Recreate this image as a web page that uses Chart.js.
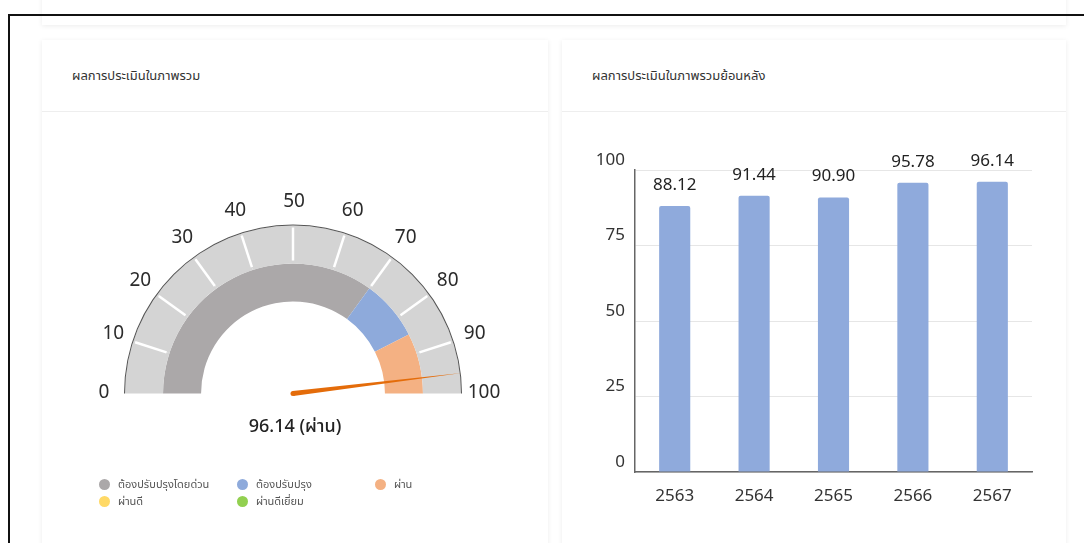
<!DOCTYPE html>
<html lang="th">
<head>
<meta charset="utf-8">
<title>ผลการประเมิน</title>
<script src="https://cdn.jsdelivr.net/npm/chart.js@4.4.1/dist/chart.umd.min.js"></script>
<style>
  html, body { margin: 0; padding: 0; background: #fff; }
  body {
    width: 1084px; height: 543px; overflow: hidden; position: relative;
    font-family: "Noto Sans", "Noto Sans Thai", sans-serif; color: #333;
  }
  .frame {
    position: absolute; left: 8px; top: 14px; width: 1200px; height: 700px;
    border-left: 2px solid #111; border-top: 2px solid #111; z-index: 5;
  }
  .card {
    position: absolute; background: #fff;
    box-shadow: 0 1px 5px rgba(0, 0, 0, 0.08);
  }
  .card-head {
    position: absolute; left: 0; right: 0; top: 0; height: 71px;
    border-bottom: 1px solid #eee;
  }
  .card-head span {
    position: absolute; left: 30px; top: 26px; font-size: 13px; color: #333;
  }
  canvas { position: absolute; }
  .legend { position: absolute; left: 99px; top: 476px; width: 420px; font-size: 11px; color: #555; }
  .legend .item { position: absolute; display: flex; align-items: center; white-space: nowrap; }
  .legend .dot { width: 11px; height: 11px; border-radius: 50%; margin-right: 8px; }
</style>
</head>
<body>
<div class="frame"></div>
<div class="card" style="left:42px; top:-20px; width:1024px; height:45px;"></div>

<div class="card" style="left:42px; top:40px; width:506px; height:520px;">
  <div class="card-head"><span>ผลการประเมินในภาพรวม</span></div>
</div>
<div class="card" style="left:562px; top:40px; width:504px; height:520px;">
  <div class="card-head"><span>ผลการประเมินในภาพรวมย้อนหลัง</span></div>
</div>

<canvas id="gaugeChart" style="left:42px; top:112px;" width="506" height="431"></canvas>
<div class="legend" id="gaugeLegend"></div>
<canvas id="trendChart" style="left:562px; top:112px;" width="504" height="431"></canvas>

<script>
// ข้อมูลเกณฑ์การประเมิน
const zoneLabels = ['ต้องปรับปรุงโดยด่วน', 'ต้องปรับปรุง', 'ผ่าน', 'ผ่านดี', 'ผ่านดีเยี่ยม'];
const zoneSizes = [70, 15, 15, 0, 0];
const zoneColors = ['#aba8a9', '#8eaadb', '#f4b183', '#ffd966', '#92d050'];
const gaugeTicks = [0, 10, 20, 30, 40, 50, 60, 70, 80, 90, 100];
const gaugeBand = [10, 10, 10, 10, 10, 10, 10, 10, 10, 10];
const gaugeMax = 100;

// ข้อมูลย้อนหลัง
const years = ['2563', '2564', '2565', '2566', '2567'];
const scores = [88.12, 91.44, 90.90, 95.78, 96.14];
const yTicks = [0, 25, 50, 75, 100];

const gaugeValue = scores[scores.length - 1];
const FONT = '"Noto Sans", "Noto Sans Thai", sans-serif';

// หาเกณฑ์ของคะแนนปัจจุบัน
let statusLabel = zoneLabels[0];
let acc = 0;
zoneSizes.forEach((s, i) => {
    if (s > 0 && gaugeValue >= acc) statusLabel = zoneLabels[i];
    acc += s;
});

// legend แบบ HTML (3 คอลัมน์)
const legendEl = document.getElementById('gaugeLegend');
zoneLabels.forEach((lbl, i) => {
    const item = document.createElement('div');
    item.className = 'item';
    item.style.left = (i % 3) * 138 + 'px';
    item.style.top = Math.floor(i / 3) * 17 + 'px';
    item.innerHTML = '<span class="dot" style="background:' + zoneColors[i] + '"></span>' + lbl;
    legendEl.appendChild(item);
});

// เส้นแบ่งช่อง, ตัวเลขรอบเกจ, เข็ม และข้อความสถานะ
const gaugeExtras = {
    id: 'gaugeExtras',
    afterDatasetsDraw(chart) {
        const ctx = chart.ctx;
        const band = chart.getDatasetMeta(1).data;
        const arc = chart.getDatasetMeta(2).data[0];
        const cx = arc.x, cy = arc.y;
        ctx.save();

        // เส้นขาวแบ่งช่องละ 10
        ctx.strokeStyle = '#fff';
        ctx.lineWidth = 2.5;
        band.forEach((seg, i) => {
            if (i === 0) return;
            const a = seg.startAngle;
            const r0 = seg.innerRadius + 3, r1 = seg.outerRadius - 2;
            ctx.beginPath();
            ctx.moveTo(seg.x + Math.cos(a) * r0, seg.y + Math.sin(a) * r0);
            ctx.lineTo(seg.x + Math.cos(a) * r1, seg.y + Math.sin(a) * r1);
            ctx.stroke();
        });

        ctx.font = '19px ' + FONT;
        ctx.fillStyle = '#2b2b2b';
        ctx.textAlign = 'center';
        ctx.textBaseline = 'middle';
        gaugeTicks.forEach(t => {
            const a = Math.PI + Math.PI * t / gaugeMax;
            ctx.fillText(String(t), cx + 1 + Math.cos(a) * 190, cy - 1 + Math.sin(a) * 191);
        });

        // เข็ม
        const a = Math.PI + Math.PI * gaugeValue / gaugeMax;
        const len = 170, w = 2.5;
        const px = Math.cos(a + Math.PI / 2) * w, py = Math.sin(a + Math.PI / 2) * w;
        ctx.fillStyle = '#e46c0a';
        ctx.beginPath();
        ctx.moveTo(cx + px, cy + py);
        ctx.lineTo(cx + Math.cos(a) * len, cy + Math.sin(a) * len);
        ctx.lineTo(cx - px, cy - py);
        ctx.closePath();
        ctx.fill();
        ctx.beginPath();
        ctx.arc(cx, cy, w, 0, Math.PI * 2);
        ctx.fill();

        ctx.font = '500 18px ' + FONT;
        ctx.fillStyle = '#222';
        ctx.fillText(gaugeValue.toFixed(2) + ' (' + statusLabel + ')', cx + 2, cy + 33);
        ctx.restore();
    }
};

const gaugeCtx = document.getElementById('gaugeChart').getContext('2d');
const gaugeChart = new Chart(gaugeCtx, {
    type: 'doughnut',
    data: {
        labels: zoneLabels,
        datasets: [
            {
                // เส้นขอบนอก
                data: [gaugeMax],
                backgroundColor: ['#555'],
                borderWidth: 0,
                weight: 1
            },
            {
                data: gaugeBand,
                backgroundColor: '#d4d4d4',
                borderWidth: 0,
                weight: 38
            },
            {
                data: zoneSizes,
                backgroundColor: zoneColors,
                borderWidth: 0,
                weight: 38
            }
        ]
    },
    options: {
        responsive: false,
        animation: false,
        rotation: -90,
        circumference: 180,
        cutout: '54.4%',
        layout: { padding: { left: 82, right: 86, top: 97, bottom: 134 } },
        plugins: {
            legend: { display: false },
            tooltip: { enabled: false }
        }
    },
    plugins: [gaugeExtras]
});

// ค่าบนแท่ง
const barValues = {
    id: 'barValues',
    afterDatasetsDraw(chart) {
        const ctx = chart.ctx;
        const meta = chart.getDatasetMeta(0);
        ctx.save();
        ctx.font = '17px ' + FONT;
        ctx.fillStyle = '#222';
        ctx.textAlign = 'center';
        ctx.textBaseline = 'middle';
        meta.data.forEach((bar, i) => {
            ctx.fillText(scores[i].toFixed(2), bar.x, bar.y - 21);
        });
        ctx.restore();
    }
};

const trendCtx = document.getElementById('trendChart').getContext('2d');
const trendChart = new Chart(trendCtx, {
    type: 'bar',
    data: {
        labels: years,
        datasets: [{
            data: scores,
            backgroundColor: '#8faadc',
            borderRadius: 2,
            categoryPercentage: 0.8,
            barPercentage: 0.49
        }]
    },
    options: {
        responsive: false,
        animation: false,
        layout: { padding: { left: 0, right: 34, top: 58, bottom: 0 } },
        plugins: {
            legend: { display: false },
            tooltip: { enabled: false }
        },
        scales: {
            x: {
                grid: { display: false, drawTicks: false },
                border: { display: true, color: '#666', width: 1.5 },
                ticks: { color: '#333', font: { size: 17, family: FONT }, padding: 14 },
                afterFit(scale) { scale.height = 71; }
            },
            y: {
                min: 0,
                max: 100,
                afterBuildTicks(scale) { scale.ticks = yTicks.map(v => ({ value: v })); },
                grid: { color: '#e6e6e6', drawTicks: false },
                border: { display: true, color: '#666', width: 1.5 },
                ticks: { color: '#333', font: { size: 17, family: FONT }, padding: 10, labelOffset: -10 },
                afterFit(scale) { scale.width = 73; }
            }
        }
    },
    plugins: [barValues]
});
</script>
</body>
</html>
